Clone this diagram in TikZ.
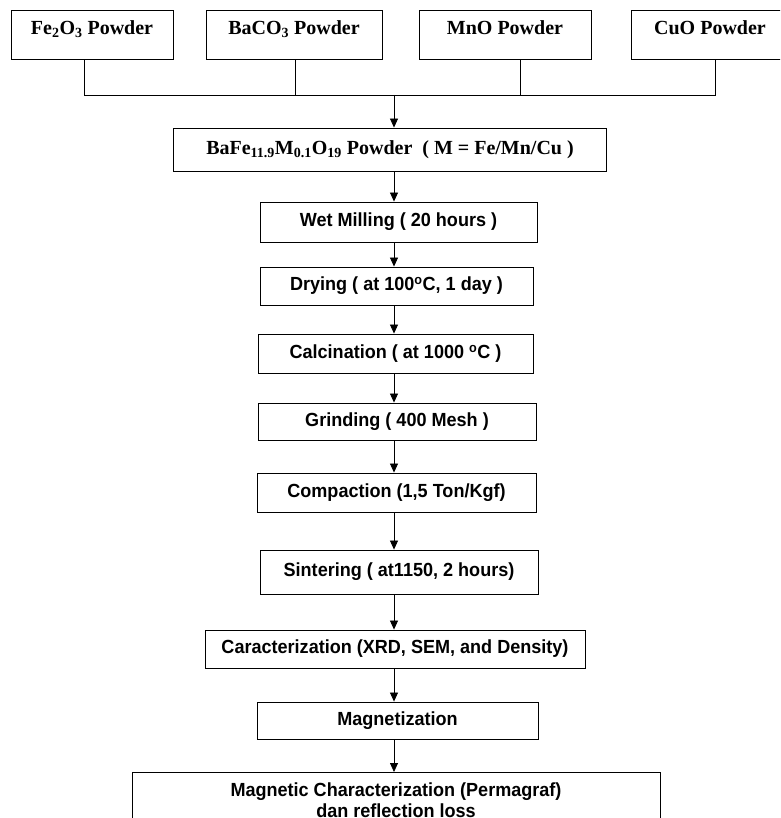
\documentclass[tikz,border=0pt]{standalone}
\usepackage{fontspec}
\setmainfont{Liberation Serif}
\newfontfamily\procfont[FakeStretch=0.95]{Liberation Sans}
\usetikzlibrary{arrows.meta}

\begin{document}
\begin{tikzpicture}[x=1pt,y=-1pt]
			\tikzset{
				powder/.style={draw,line width=0.9pt,inner sep=0pt,minimum height=49pt,text height=13pt,text depth=13pt,font=\fontsize{20}{24}\selectfont\bfseries},
				stepbox/.style={draw,line width=0.9pt,inner sep=0pt,font=\procfont\fontsize{19}{21}\selectfont\bfseries},
				flow/.style={-{Triangle[length=9pt,width=8pt]},line width=0.8pt},
				link/.style={line width=0.7pt},
			}
			\clip (0,0) rectangle (780,818);
			\node[powder,minimum width=162pt] (fe) at (92,34.5) {Fe\textsubscript{2}O\textsubscript{3} Powder};
			\node[powder,minimum width=176pt] (ba) at (294,34.5) {BaCO\textsubscript{3} Powder};
			\node[powder,minimum width=172pt] (mn) at (505,34.5) {MnO Powder};
			\node[powder,minimum width=158pt] (cu) at (710,34.5) {CuO Powder};

			\coordinate (busfe) at (84,95);
			\coordinate (busba) at (295,95);
			\coordinate (busmn) at (520,95);
			\coordinate (buscu) at (715,95);
			\coordinate (hub) at (394,95);
			\coordinate (axis) at (394,0);

			\node[stepbox,minimum width=433pt,minimum height=43pt,font=\fontsize{20}{24}\selectfont\bfseries] (bafe) at (390,149.5)
			{BaFe\textsubscript{11.9}M\textsubscript{0.1}O\textsubscript{19} Powder\ \ ( M = Fe/Mn/Cu )};
			\node[stepbox,minimum width=277pt,minimum height=40pt] (wet) at (398.5,222) {Wet Milling ( 20 hours )};
			\node[stepbox,minimum width=273pt,minimum height=38pt] (dry) at (396.5,286) {Drying ( at 100\textsuperscript{o}C, 1 day )};
			\node[stepbox,minimum width=275pt,minimum height=39pt] (calc) at (395.5,353.5) {Calcination ( at 1000 \textsuperscript{o}C )};
			\node[stepbox,minimum width=278pt,minimum height=37pt] (grind) at (397,421.5) {Grinding ( 400 Mesh )};
			\node[stepbox,minimum width=279pt,minimum height=39pt] (comp) at (396.5,492.5) {Compaction (1,5 Ton/Kgf)};
			\node[stepbox,minimum width=278pt,minimum height=44pt] (sint) at (399,572) {Sintering ( at1150, 2 hours)};
			\node[stepbox,minimum width=380pt,minimum height=38pt] (car) at (395,649) {Caracterization (XRD, SEM, and Density)};
			\node[stepbox,minimum width=281pt,minimum height=37pt] (mag) at (397.5,720.5) {Magnetization};
			\node[stepbox,minimum width=528pt,inner ysep=10pt,align=center,anchor=north] (magchar) at (396,772)
			{Magnetic Characterization (Permagraf)\\dan reflection loss};

			\draw[link] (busfe |- fe.south) -- (busfe) -- (buscu) -- (buscu |- cu.south);
			\draw[link] (busba |- ba.south) -- (busba);
			\draw[link] (busmn |- mn.south) -- (busmn);
			\draw[flow] (hub) -- (hub |- bafe.north);

			\draw[flow] (bafe.south -| axis) -- (axis |- wet.north);
			\draw[flow] (wet.south -| axis) -- (axis |- dry.north);
			\draw[flow] (dry.south -| axis) -- (axis |- calc.north);
			\draw[flow] (calc.south -| axis) -- (axis |- grind.north);
			\draw[flow] (grind.south -| axis) -- (axis |- comp.north);
			\draw[flow] (comp.south -| axis) -- (axis |- sint.north);
			\draw[flow] (sint.south -| axis) -- (axis |- car.north);
			\draw[flow] (car.south -| axis) -- (axis |- mag.north);
			\draw[flow] (mag.south -| axis) -- (axis |- magchar.north);
		\end{tikzpicture}
\end{document}
